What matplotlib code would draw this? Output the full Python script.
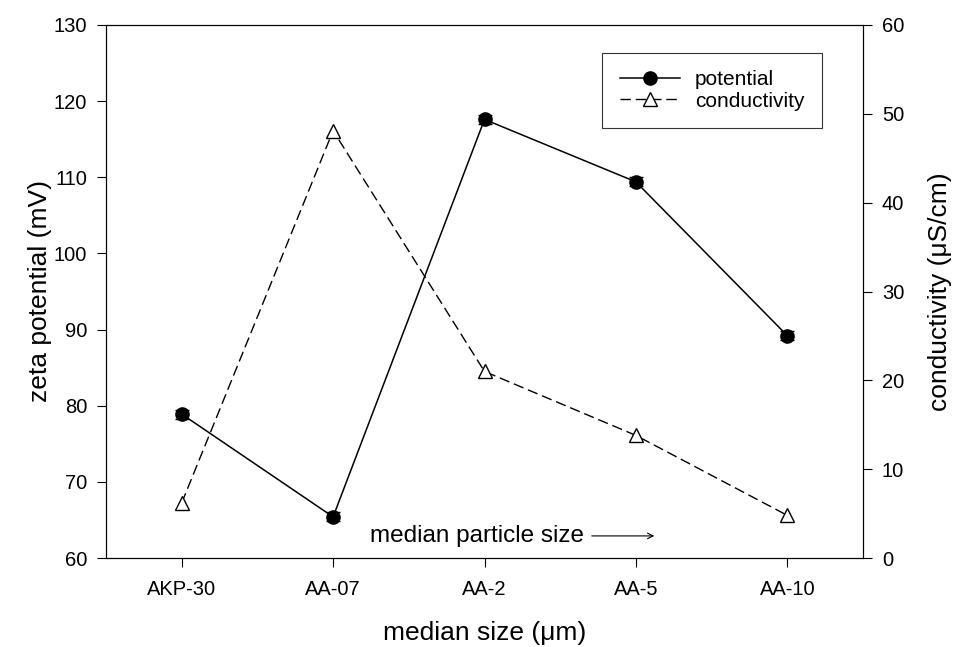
import matplotlib
matplotlib.use("Agg")
import matplotlib.pyplot as plt
from matplotlib.lines import Line2D

plt.rcParams["font.family"] = ["Liberation Sans", "DejaVu Sans"]

samples = ["AKP-30", "AA-07", "AA-2", "AA-5", "AA-10"]
potential = [78.9, 65.4, 117.6, 109.4, 89.2]
potential_err = [0.6, 0.6, 0.6, 0.6, 0.6]
conductivity = [6.2, 48.1, 21.0, 13.8, 4.8]

fig = plt.figure(figsize=(9.57, 6.47), dpi=100)
# frame placed to match the reference pixel box (106..863 x 25..558)
ax = fig.add_axes([106 / 957, 1 - 558 / 647, (863 - 106) / 957, (558 - 25) / 647])
ax2 = ax.twinx()

x = list(range(len(samples)))
ax.errorbar(x, potential, yerr=potential_err, color="black", marker="o",
            markersize=9.5, linewidth=1.1, capsize=5, elinewidth=1)
dash = (0, (7.5, 3.5))
ax2.plot(x, conductivity, color="black", linestyle=dash, marker="^",
         markersize=9.5, markerfacecolor="white", linewidth=1)

ax.set_xlim(-0.5, 4.5)
ax.set_ylim(60, 130)
ax2.set_ylim(0, 60)
ax.set_xticks(x)
ax.set_xticklabels(samples)
ax.set_yticks(range(60, 131, 10))
ax2.set_yticks(range(0, 61, 10))
for a in (ax, ax2):
    a.tick_params(direction="out", length=6.5, labelsize=14.5, pad=7)
ax.tick_params(axis="x", pad=9)

ax.set_xlabel("median size (\u03bcm)", fontsize=19, labelpad=16)
ax.set_ylabel("zeta potential (mV)", fontsize=19, labelpad=1)
ax2.set_ylabel("conductivity (\u03bcS/cm)", fontsize=19, labelpad=17)

# "median particle size" with an arrow pointing to larger sizes
ax.annotate("", xy=(3.14, 62.9), xytext=(2.69, 62.9),
            arrowprops=dict(arrowstyle="->", color="black", lw=0.8))
ax.text(2.66, 62.9, "median particle size", ha="right", va="center",
        fontsize=17.5)

handles = [
    Line2D([], [], color="black", marker="o", markersize=9.5, linewidth=1.1),
    Line2D([], [], color="black", linestyle=dash, marker="^", markersize=9.5,
           markerfacecolor="white", linewidth=1),
]
leg = ax.legend(handles, ["potential", "conductivity"], loc="upper right",
                bbox_to_anchor=(0.946, 0.948), borderaxespad=0, fontsize=15,
                frameon=True, fancybox=False, edgecolor="black",
                handlelength=2.9, borderpad=0.85, labelspacing=0.1,
                handletextpad=0.7)
leg.get_frame().set_linewidth(0.8)

fig.savefig("out.png", dpi=100)
